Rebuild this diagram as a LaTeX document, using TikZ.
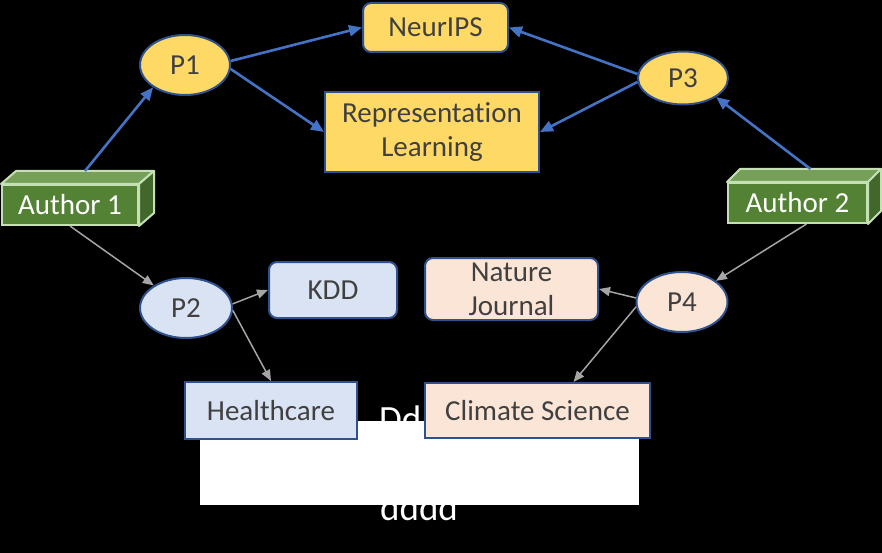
\documentclass[tikz,border=0pt]{standalone}
\usepackage{fontspec}
\setmainfont{Carlito}[Ligatures={NoCommon}]
\usetikzlibrary{shapes.geometric,arrows.meta,calc}
\definecolor{gold}{HTML}{FFD966}
\definecolor{lblue}{HTML}{DAE3F3}
\definecolor{peach}{HTML}{FBE5D6}
\definecolor{edgeblue}{HTML}{2F528F}
\definecolor{arrblue}{HTML}{4472C4}
\definecolor{arrgray}{HTML}{A5A5A5}
\definecolor{txt}{HTML}{404040}
\definecolor{grfront}{HTML}{548235}
\definecolor{grtop}{HTML}{76A05A}
\definecolor{grside}{HTML}{42672A}
\definecolor{grline}{HTML}{C5E0B4}
\tikzset{
  lbl/.style={font=\fontsize{29}{34}\selectfont, text=txt, align=center, inner sep=0pt},
  pell/.style={lbl, ellipse, draw=edgeblue, line width=2pt},
  rbox/.style={lbl, rectangle, draw=edgeblue, line width=2pt},
  rrbox/.style={rbox, rounded corners=8pt},
  authorfront/.style={rectangle, fill=grfront, draw=grline, line width=2pt, text=white,
    font=\fontsize{29}{34}\selectfont, inner sep=0pt},
  blueline/.style={draw=arrblue, line width=2.6pt, -{Triangle[length=13pt,width=11pt]}},
  grayline/.style={draw=arrgray, line width=1.5pt, -{Triangle[length=11pt,width=9pt]}},
  whitetxt/.style={text=white, font=\fontsize{37}{44}\selectfont, inner sep=0pt, anchor=base west}
}
\begin{document}
\begin{tikzpicture}[x=1pt,y=-1pt]
\path[use as bounding box, fill=black] (0,0) rectangle (882,553);
% background white text and rectangle
\node[whitetxt] (dd) at (379,431) {Dd};
\node[whitetxt] (dddd) at (380,520) {dddd};
\path[fill=white] (200,421) rectangle (639,505);
% nodes
\node[rrbox, fill=gold, minimum width=145pt, minimum height=49pt] (neur) at (435.5,27.5) {NeurIPS};
\node[rbox, fill=gold, minimum width=214pt, minimum height=80pt] (repl) at (432,132) {Representation\\Learning};
\node[pell, fill=gold, minimum width=90pt, minimum height=60pt] (p1) at (185,65) {P1};
\node[pell, fill=gold, minimum width=90pt, minimum height=53pt] (p3) at (683,78) {P3};
\node[pell, fill=lblue, minimum width=92pt, minimum height=60pt] (p2) at (186,308) {P2};
\node[pell, fill=peach, minimum width=91pt, minimum height=60pt] (p4) at (682,302) {P4};
\node[rrbox, fill=lblue, minimum width=128pt, minimum height=56pt] (kdd) at (333,290) {KDD};
\node[rbox, fill=lblue, minimum width=172pt, minimum height=57pt] (hc) at (271,410.5) {Healthcare};
\node[rrbox, fill=peach, minimum width=173pt, minimum height=62pt] (nat) at (511.5,289) {Nature\\Journal};
\node[rbox, fill=peach, minimum width=225pt, minimum height=55pt] (cs) at (537.5,410.5) {Climate Science};
% 3D author boxes
\node[authorfront, minimum width=136pt, minimum height=40pt] (a1) at (70,205) {Author 1};
\node[authorfront, minimum width=139pt, minimum height=40pt] (a2) at (797.5,203) {Author 2};
\foreach \a/\dx/\dy in {a1/15/13, a2/13/13}{
  \draw[fill=grtop, draw=grline, line width=2pt, line join=round]
    (\a.north west) -- ++(\dx,-\dy) -- ($(\a.north east)+(\dx,-\dy)$) -- (\a.north east) -- cycle;
  \draw[fill=grside, draw=grline, line width=2pt, line join=round]
    (\a.north east) -- ++(\dx,-\dy) -- ($(\a.south east)+(\dx,-\dy)$) -- (\a.south east) -- cycle;
}
\coordinate (a1top) at ($(a1.north)+(15,-13)$);
\coordinate (a2top) at ($(a2.north)+(13,-13)$);
\coordinate (a2bot) at ($(a2.south)+(9,0)$);
\coordinate (csin) at ($(cs.north)+(36,0)$);
% blue connectors
\draw[blueline] (a1top) -- (p1.-145);
\draw[blueline] (p1.5) -- (neur.west);
\draw[blueline] (p1.-5) -- (repl.west);
\draw[blueline] (p3.175) -- (neur.east);
\draw[blueline] (p3.185) -- (repl.east);
\draw[blueline] (a2top) -- (p3.-30);
% gray connectors
\draw[grayline] (a1.south) -- (p2.145);
\draw[grayline] (p2.5) -- (kdd.west);
\draw[grayline] (p2.-3) -- (hc.north);
\draw[grayline] (a2bot) -- (p4.32);
\draw[grayline] (p4.175) -- (nat.east);
\draw[grayline] (p4.186) -- (csin);
\end{tikzpicture}
\end{document}
